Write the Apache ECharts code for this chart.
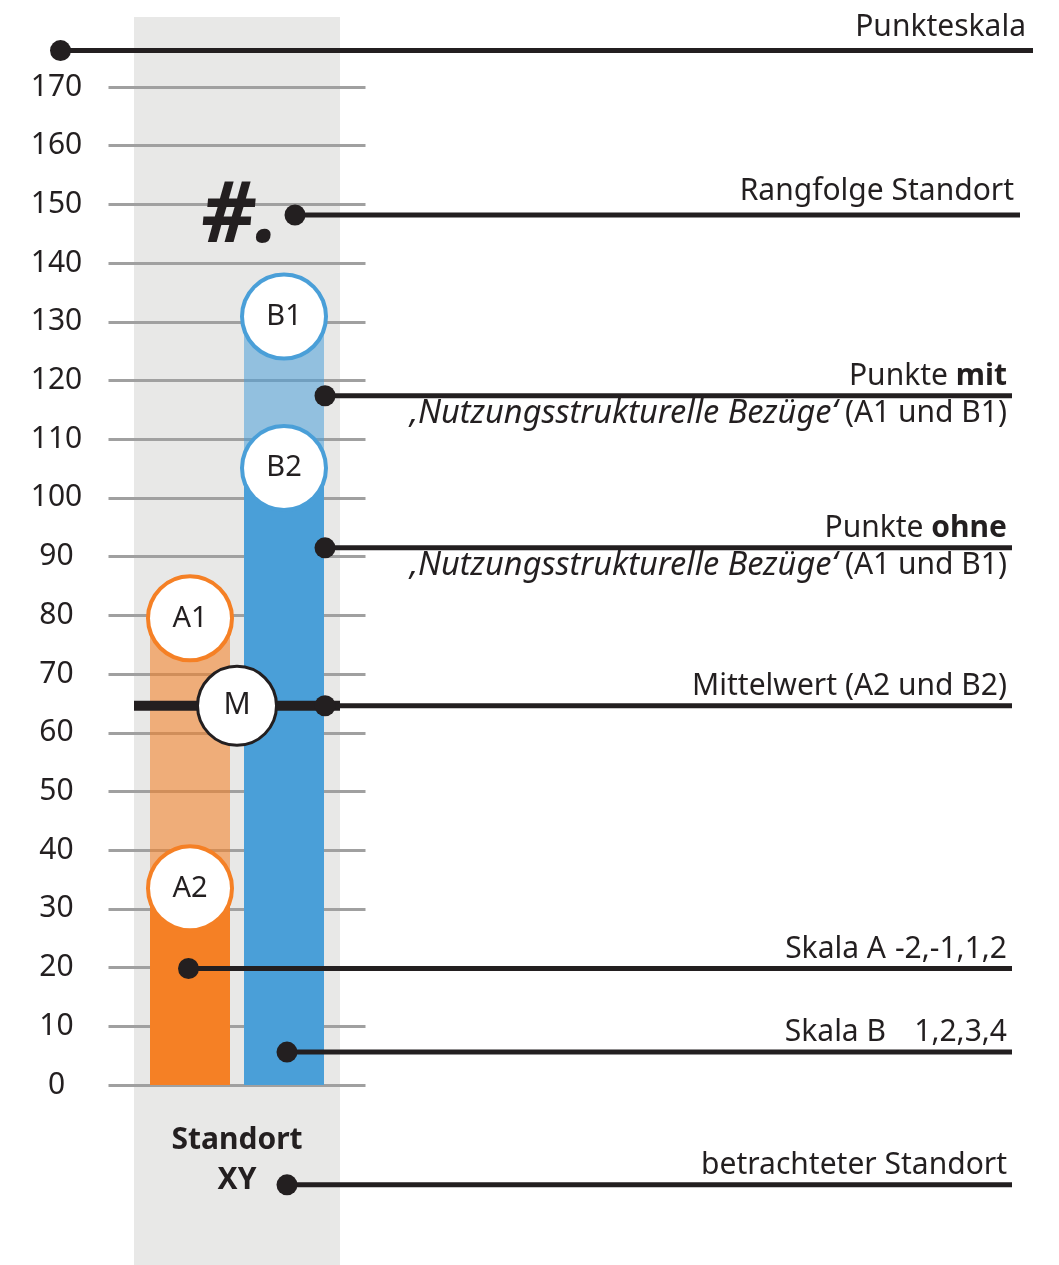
<!DOCTYPE html>
<html>
<head>
<meta charset="utf-8">
<script src="https://cdn.jsdelivr.net/npm/echarts@6/dist/echarts.min.js"></script>
<style>
html,body{margin:0;padding:0;background:#fff;}
#c{width:1059px;height:1265px;}
</style>
</head>
<body>
<div id="c"></div>
<script>
// ---------- data ----------
const categories = ['Standort\nXY'];
const yTickLabels = ['0','10','20','30','40','50','60','70','80','90','100','110','120','130','140','150','160','170'];
const scoreA1 = [79.5];   // Punkte mit (A1)
const scoreA2 = [33.5];   // Punkte ohne (A2)
const scoreB1 = [130.9];  // Punkte mit (B1)
const scoreB2 = [105.1];  // Punkte ohne (B2)
const meanM   = [64.6];   // Mittelwert
const rankLabel = ['#.'];

// ---------- styles / layout ----------
const ink = '#231f20';
const font = '"Noto Sans", "Open Sans", sans-serif';
const orange = '#f58025', orangeLight = 'rgba(245,128,37,0.57)';
const blue = '#4a9fd8', blueLight = 'rgba(74,159,216,0.55)';

// annotation leaders: level on point scale, x anchors in page px
const leaders = [
  {level: 176.2, x0: 60.5, x1: 1033, right: 1026, dy: -23, lines: [{t:'Punkteskala'}]},
  {level: 148.2, x0: 295, x1: 1020, right: 1014, dy: -24, lines: [{t:'Rangfolge Standort'}]},
  {level: 117.4, x0: 325, x1: 1012, right: 1007, dy: -19.5, lines: [{t:'Punkte {b|mit}'}, {t:'{i|‚Nutzungsstrukturelle Bezüge‘} (A1 und B1)', dy: 18}]},
  {level: 91.5,  x0: 325, x1: 1012, right: 1007, dy: -19.5, lines: [{t:'Punkte {b|ohne}'}, {t:'{i|‚Nutzungsstrukturelle Bezüge‘} (A1 und B1)', dy: 18}]},
  {level: meanM[0], x0: 325, x1: 1012, right: 1007, dy: -19.5, lines: [{t:'Mittelwert (A2 und B2)'}]},
  {level: 19.85, x0: 188.5, x1: 1012, right: 1007, dy: -19.5, lines: [{t:'-2,-1,1,2'}, {t:'Skala A', right: 886}]},
  {level: 5.6,   x0: 287, x1: 1012, right: 1007, dy: -19.5, lines: [{t:'1,2,3,4'}, {t:'Skala B', right: 886}]},
  {level: -17.0, x0: 287, x1: 1012, right: 1007, dy: -19, lines: [{t:'betrachteter Standort'}]}
];
const band = {x0: 134, x1: 340};

function circleLabel(color) {
  return {
    show: true, position: ['50%', 0], align: 'center', verticalAlign: 'middle',
    formatter: '{a}', width: 80, height: 80, lineHeight: 80, borderRadius: 40,
    backgroundColor: '#fff', borderColor: color, borderWidth: 4,
    fontSize: 29, color: ink, fontFamily: font
  };
}

const chart = echarts.init(document.getElementById('c'));

const leaderSeries = leaders.map(a => ({
  type: 'line', xAxisIndex: 1, yAxisIndex: 1, clip: false, silent: true, z: 6,
  data: [
    {value: [a.x0, a.level], symbol: 'circle', symbolSize: 21},
    {value: [a.x1, a.level], symbol: 'none'}
  ],
  showSymbol: true, lineStyle: {color: ink, width: 5}, itemStyle: {color: ink}
}));

const option = {
  animation: false,
  backgroundColor: '#fff',
  grid: [
    {left: 108.5, width: 257, top: 87, height: 998},
    {left: 0, width: 1059, top: 87, height: 998}
  ],
  xAxis: [
    {type: 'category', gridIndex: 0, data: categories,
     axisLine: {show: false}, axisTick: {show: false},
     axisLabel: {margin: 35, fontSize: 30, fontWeight: 'bold', lineHeight: 40,
                 color: ink, fontFamily: font, verticalAlign: 'top'}},
    {type: 'value', gridIndex: 1, min: 0, max: 1059, show: false}
  ],
  yAxis: [
    {type: 'value', gridIndex: 0, min: 0, max: 170, interval: 10,
     axisLine: {show: false}, axisTick: {show: false},
     splitLine: {lineStyle: {color: '#a0a0a0', width: 3}},
     axisLabel: {fontSize: 30, color: ink, fontFamily: font, align: 'center', margin: 52,
                 formatter: (v) => yTickLabels[Math.round(v / 10)]}},
    {type: 'value', gridIndex: 1, min: 0, max: 170, show: false}
  ],
  series: [
    {type: 'bar', name: 'A2', stack: 'A', z: 3, data: scoreA2, barWidth: 80, barGap: '17.5%',
     itemStyle: {color: orange}, label: circleLabel(orange)},
    {type: 'bar', name: 'A1', stack: 'A', z: 2, data: scoreA1.map((v, i) => v - scoreA2[i]), barWidth: 80, barGap: '17.5%',
     itemStyle: {color: orangeLight}, label: circleLabel(orange)},
    {type: 'bar', name: 'B2', stack: 'B', z: 3, data: scoreB2, barWidth: 80, barGap: '17.5%',
     itemStyle: {color: blue}, label: circleLabel(blue)},
    {type: 'bar', name: 'B1', stack: 'B', z: 2, data: scoreB1.map((v, i) => v - scoreB2[i]), barWidth: 80, barGap: '17.5%',
     itemStyle: {color: blueLight}, label: circleLabel(blue)},
    // Mittelwert bar line across band
    {type: 'line', xAxisIndex: 1, yAxisIndex: 1, z: 4, silent: true, symbol: 'none',
     data: [[band.x0, meanM[0]], [band.x1, meanM[0]]], lineStyle: {color: ink, width: 10}},
    ...leaderSeries,
    // Mittelwert circle
    {type: 'scatter', name: 'M', xAxisIndex: 0, yAxisIndex: 0, z: 8, silent: true,
     data: meanM.map((v, i) => [categories[i], v]), symbolSize: 79,
     itemStyle: {color: '#fff', opacity: 1, borderColor: ink, borderWidth: 3},
     label: {show: true, position: 'inside', formatter: '{a}', fontSize: 30, color: ink, fontFamily: font}}
  ]
};
chart.setOption(option);

// ---------- texts positioned from the scale ----------
const graphics = [
  {type: 'rect', z: -1, silent: true, shape: {x: band.x0, y: 17, width: band.x1 - band.x0, height: 1265 - 17},
   style: {fill: '#e8e8e7'}}
];
const richStyles = {
  b: {fontWeight: 'bold', fontSize: 30, fontFamily: font, fill: ink},
  i: {fontStyle: 'italic', fontSize: 32.5, fontFamily: font, fill: ink}
};
leaders.forEach(a => {
  const y = chart.convertToPixel({yAxisIndex: 1}, a.level);
  a.lines.forEach(l => {
    graphics.push({type: 'text', silent: true, z: 10,
      style: {text: l.t, x: (l.right !== undefined ? l.right : a.right),
              y: y + (l.dy !== undefined ? l.dy : a.dy),
              align: 'right', verticalAlign: 'middle', fontSize: 30, fontFamily: font, fill: ink,
              rich: richStyles}});
  });
});
// rank placeholder
const yRank = chart.convertToPixel({yAxisIndex: 1}, leaders[1].level);
graphics.push({type: 'text', silent: true, z: 10,
  style: {text: rankLabel[0], x: 201, y: yRank + 3, align: 'left', verticalAlign: 'middle',
          fontSize: 84, fontWeight: 'bold', fontStyle: 'italic', fontFamily: font, fill: ink}});

chart.setOption({graphic: {elements: graphics}});
</script>
</body>
</html>
